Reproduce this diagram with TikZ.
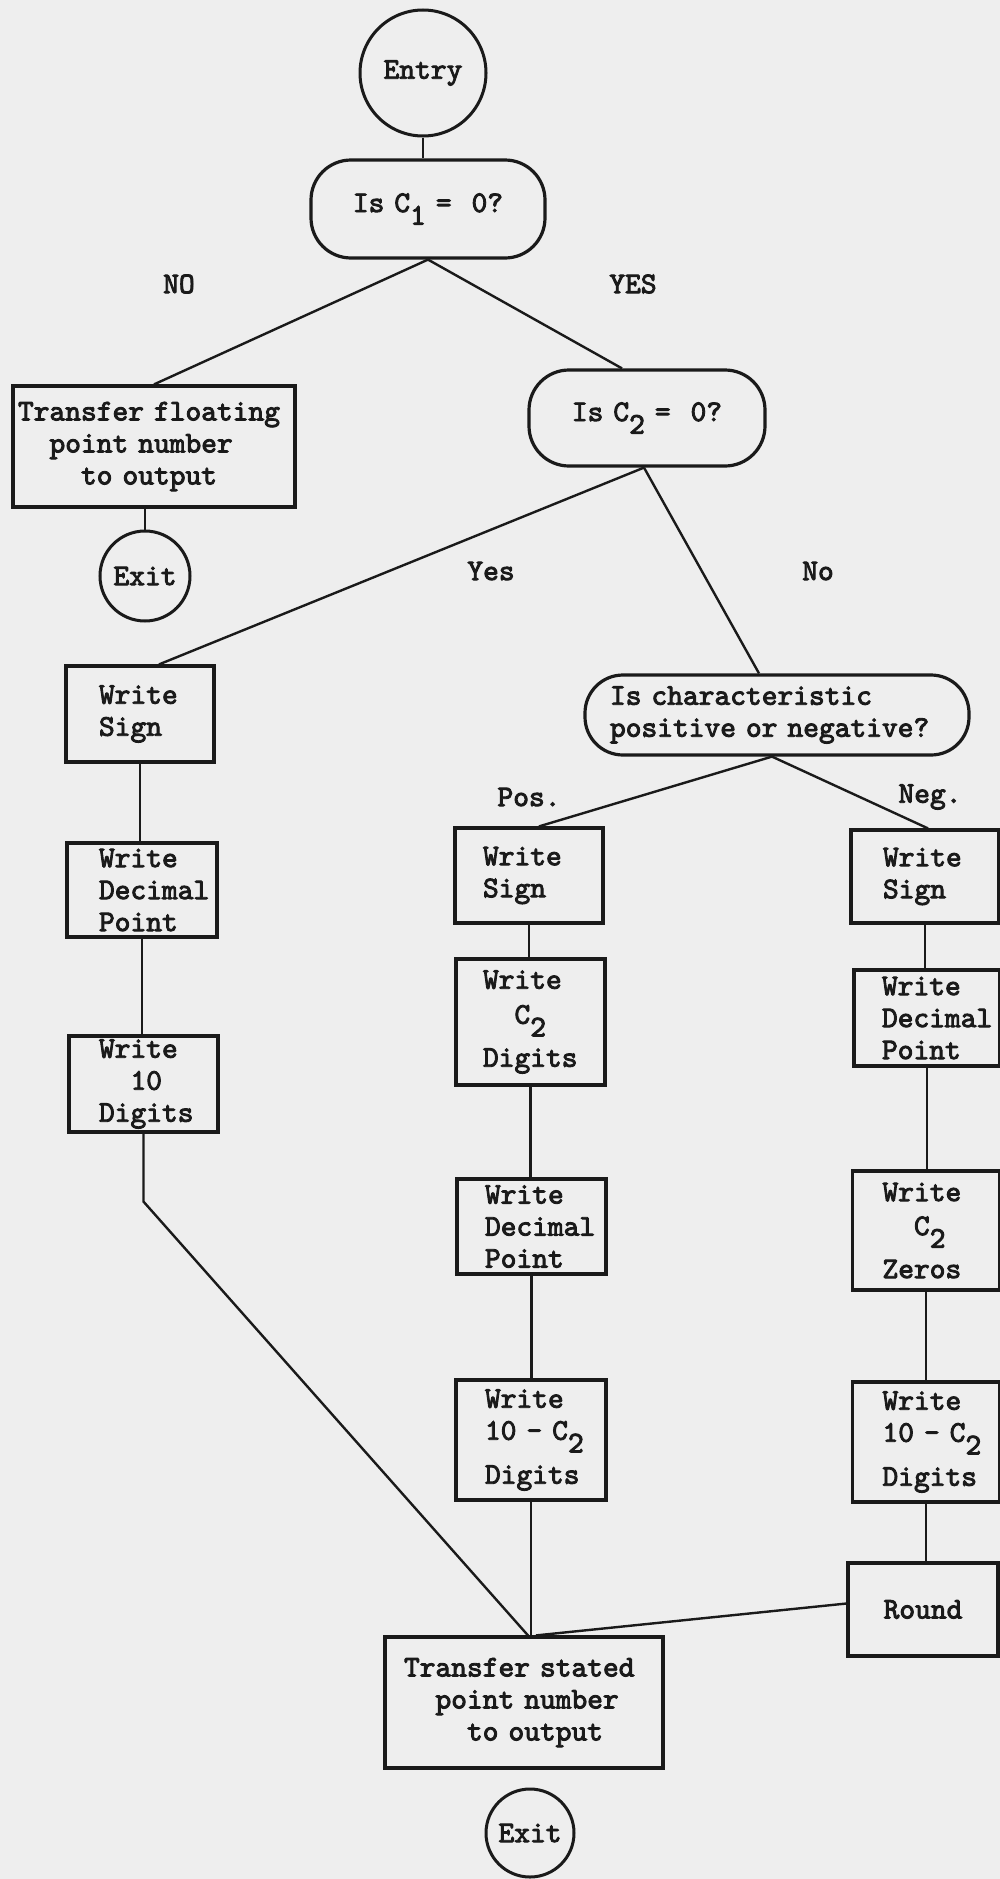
\documentclass[tikz,border=0pt]{standalone}
\usepackage{fontspec}
\newfontfamily\typew{lmmono10-regular.otf}[FakeBold=3]
\definecolor{paper}{HTML}{EEEEEE}
\definecolor{ink}{HTML}{1A1A1A}
\newcommand\sbs[1]{\raisebox{-0.42em}{#1}}
\begin{document}
\begin{tikzpicture}[x=1pt,y=-1pt,
  every node/.style={font=\typew\fontsize{30}{32}\selectfont, text=ink},
  bx/.style={draw=ink, line width=3.2pt, rectangle, inner ysep=0pt, align=left},
  rbx/.style={bx, rounded corners=40pt},
  circ/.style={draw=ink, line width=3pt, circle, inner sep=0pt},
  lbl/.style={inner sep=0pt},
  conn/.style={draw=ink, line width=2.4pt}]
\fill[paper] (0,0) rectangle (1000,1879);
\useasboundingbox (0,0) rectangle (1000,1879);

% top part
\node[circ, minimum size=126pt] (entry) at (423,73) {Entry};
\node[rbx, minimum height=98pt, text width=234pt, inner xsep=0pt, align=center] (c1) at (428,209) {\mbox{Is C\sbs{1} =~~0?}};
\node[rbx, minimum height=96pt, text width=236pt, inner xsep=0pt, align=center] (c2) at (647,418) {\mbox{Is C\sbs{2} =~~0?}};
\node[bx, minimum height=121pt, text width=272pt, inner xsep=5pt] (tf) at (154,446.5) {\mbox{Transfer floating}\\\hspace*{1.05em}point~number\\\hspace*{2.1em}to~output};
\node[circ, minimum size=90pt] (exit1) at (145,576) {Exit};

% labels
\node[lbl] (no1) at (179,284) {NO};
\node[lbl] (yes1) at (633,284) {YES};
\node[lbl] (yes2) at (491,571) {Yes};
\node[lbl] (no2) at (818,571) {No};
\node[lbl] (pos) at (529,797) {Pos.};
\node[lbl] (neg) at (930,797) {Neg.};

% left column
\node[bx, minimum height=96pt, text width=82pt, inner xsep=33pt] (wsl) at (140,714) {Write\\Sign};
\node[bx, minimum height=94pt, text width=86pt, inner xsep=32pt] (wdl) at (142,890) {Write\\Decimal\\Point};
\node[bx, minimum height=96pt, text width=89pt, inner xsep=30pt] (w10l) at (143.5,1084) {Write\\\hspace*{1.05em}10\\Digits};

% characteristic
\node[rbx, rounded corners=38pt, minimum height=80pt, text width=334pt, inner xsep=25pt] (chr) at (777,715) {\mbox{Is characteristic}\\\mbox{positive or negative?}};

% positive column
\node[bx, minimum height=95pt, text width=92pt, inner xsep=28pt] (wsp) at (529,875.5) {Write\\Sign};
\node[bx, minimum height=126pt, text width=95pt, inner xsep=27pt] (wc2p) at (530.5,1022) {Write\\[3pt]\hspace*{1.05em}C\sbs{2}\\[11pt]Digits};
\node[bx, minimum height=95pt, text width=93pt, inner xsep=28pt] (wdp) at (531.5,1226.5) {Write\\Decimal\\Point};
\node[bx, minimum height=120pt, text width=92pt, inner xsep=29pt] (w10p) at (531,1440) {Write\\\mbox{10 - C\sbs{2}}\\[12pt]Digits};

% negative column
\node[bx, minimum height=93pt, text width=84pt, inner xsep=32pt] (wsn) at (925,876.5) {Write\\Sign};
\node[bx, minimum height=96pt, text width=90pt, inner xsep=28pt] (wdn) at (927,1018) {Write\\Decimal\\Point};
\node[bx, minimum height=119pt, text width=87pt, inner xsep=30pt] (wzn) at (926,1230.5) {Write\\[2pt]\hspace*{1.05em}C\sbs{2}\\[11pt]Zeros};
\node[bx, minimum height=120pt, text width=87pt, inner xsep=30pt] (w10n) at (926,1442) {Write\\\mbox{10 - C\sbs{2}}\\[12pt]Digits};
\node[bx, minimum height=93pt, text width=150pt, inner xsep=0pt, align=center] (rnd) at (923,1609.5) {Round};

% bottom
\node[bx, minimum height=131pt, text width=240pt, inner xsep=19pt] (ts) at (524,1702.5) {\mbox{Transfer stated}\\\hspace*{1.05em}point~number\\\hspace*{2.1em}to~output};
\node[circ, minimum size=88pt] (exit2) at (530,1833) {Exit};

% connectors
\draw[conn] (entry.south) -- (entry.south |- c1.north);
\draw[conn] (c1.south) -- (tf.north);
\draw[conn] (c1.south) -- ([xshift=-25pt]c2.north);
\draw[conn] (exit1.north |- tf.south) -- (exit1.north);
\draw[conn] ([xshift=-3pt]c2.south) -- ([xshift=19pt]wsl.north);
\draw[conn] ([xshift=-3pt]c2.south) -- ([xshift=-18pt]chr.north);
\draw[conn] ([xshift=-5pt]chr.south) -- ([xshift=10pt]wsp.north);
\draw[conn] ([xshift=-5pt]chr.south) -- ([xshift=3pt]wsn.north);
\draw[conn] (wsl.south) -- (wsl.south |- wdl.north);
\draw[conn] (wdl.south) -- (wdl.south |- w10l.north);
\coordinate (bend) at ([yshift=-68pt]w10l.south);
\draw[conn] (w10l.south) -- (bend) -- ([xshift=4pt]ts.north);
\draw[conn] (wsp.south) -- (wsp.south |- wc2p.north);
\draw[conn] (wc2p.south) -- (wc2p.south |- wdp.north);
\draw[conn] (wdp.south) -- (wdp.south |- w10p.north);
\draw[conn] (w10p.south) -- (w10p.south |- ts.north);
\draw[conn] (wsn.south) -- (wsn.south |- wdn.north);
\draw[conn] (wdn.south) -- (wdn.south |- wzn.north);
\draw[conn] (wzn.south) -- (wzn.south |- w10n.north);
\draw[conn] (w10n.south) -- (w10n.south |- rnd.north);
\draw[conn] ([yshift=6pt]rnd.west) -- ([xshift=12pt]ts.north);
\end{tikzpicture}
\end{document}
